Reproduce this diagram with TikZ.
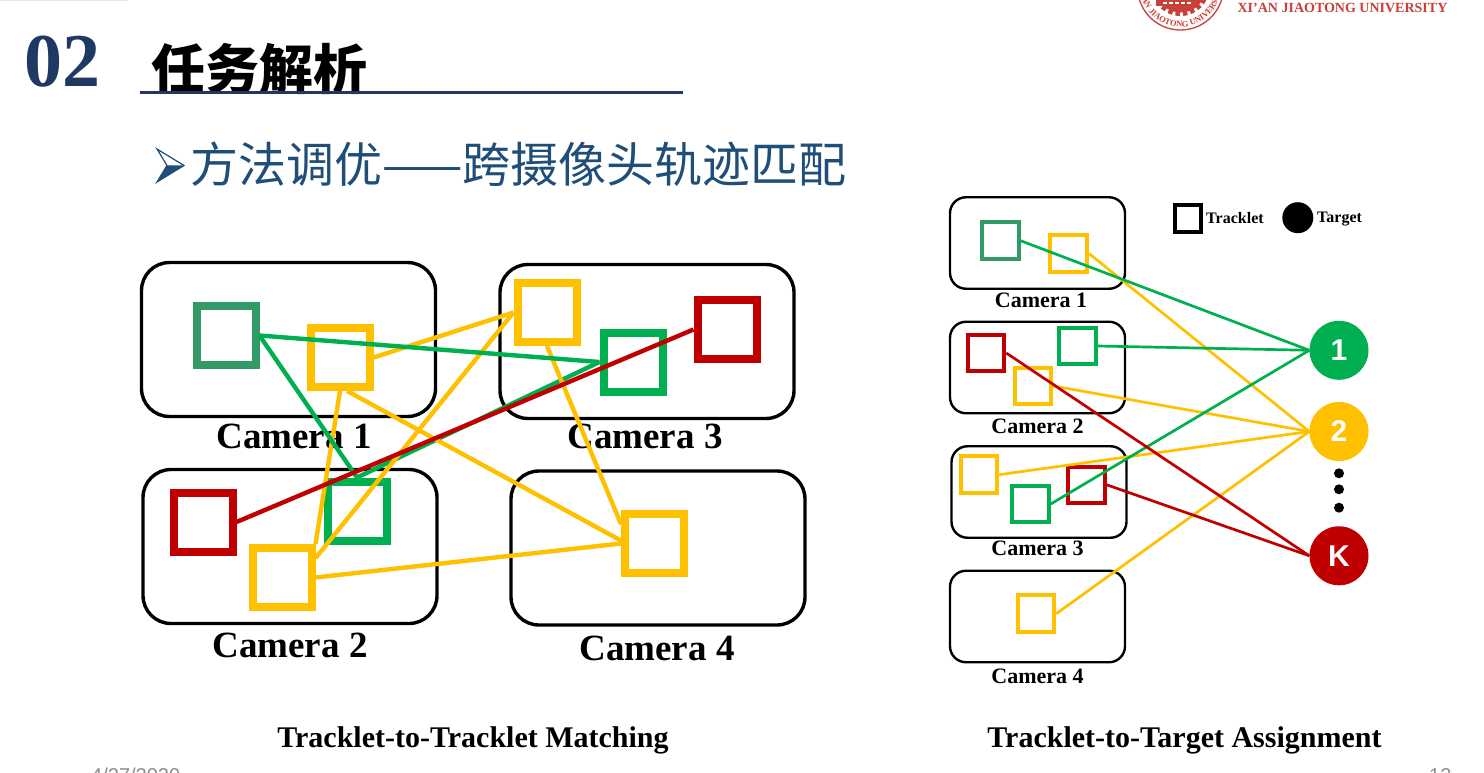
\documentclass[tikz,border=0pt]{standalone}
\usepackage{fontspec}
\usepackage{xcolor}
\usetikzlibrary{decorations.text}
\setmainfont{Liberation Serif}
\newfontfamily\cjkfont{Noto Sans CJK SC}
\newfontfamily\arialfont{Liberation Sans}
\definecolor{navy}{HTML}{1F3864}
\definecolor{subblue}{HTML}{1F4E79}
\definecolor{tgreen}{HTML}{00B050}
\definecolor{dgreen}{HTML}{339966}
\definecolor{tyellow}{HTML}{FFC000}
\definecolor{tred}{HTML}{C00000}
\definecolor{seal}{HTML}{C8403A}
\definecolor{muted}{HTML}{8C8C8C}
\tikzset{
  camL/.style={draw=black, line width=3.4pt, rounded corners=28pt, minimum width=294pt, minimum height=154pt},
  camR/.style={draw=black, line width=2.4pt, rounded corners=16pt, minimum width=175pt, minimum height=91.5pt},
  trkL/.style={draw=#1, line width=8pt, minimum size=59pt, inner sep=0pt},
  trkR/.style={draw=#1, line width=4pt, minimum size=36.5pt, inner sep=0pt},
  lineL/.style={draw=#1, line width=4.4pt},
  lineR/.style={draw=#1, line width=2.7pt},
  tgt/.style={circle, fill=#1, minimum size=59pt, inner sep=0pt, text=white, font=\arialfont\bfseries\fontsize{30}{30}\selectfont},
  blob/.style={circle, fill=black, minimum size=10pt, inner sep=0pt},
  camlblL/.style={font=\bfseries\fontsize{37}{37}\selectfont},
  camlblR/.style={font=\bfseries\fontsize{22}{22}\selectfont},
  caption/.style={font=\bfseries\fontsize{30}{30}\selectfont},
  keylbl/.style={font=\bfseries\fontsize{16}{16}\selectfont},
  footer/.style={text=muted, font=\arialfont\fontsize{20}{20}\selectfont}
}

\begin{document}
\begin{tikzpicture}[x=1pt,y=-1pt]
  \useasboundingbox (0,0) rectangle (1484,773);
  \clip (0,0) rectangle (1484,773);
  \fill[white] (0,0) rectangle (1484,773);
  \fill[navy!12] (0,0) rectangle (128,1);

  % header
  \node[text=navy, font=\bfseries\fontsize{76}{76}\selectfont] (secnum) at (62.5,62) {02};
  \node[font=\cjkfont\bfseries\fontsize{54}{54}\selectfont] (sectitle) at (259.5,69.5) {任务解析};
  \draw[navy, line width=3pt] (140,93) -- (683,93);
  \draw[subblue, line width=1.2pt, line join=miter] (157,149) -- (184,165.5) -- (157,182) -- (167,165.5) -- cycle;
  \fill[subblue] (157,182) -- (184,165.5) -- (167,165.5) -- cycle;
  \node[text=subblue, font=\cjkfont\fontsize{48}{48}\selectfont] (subtitle) at (518.5,164) {方法调优——跨摄像头轨迹匹配};

  % seal
  \begin{scope}[shift={(1180.5,-13)},y=1pt]
    \draw[seal, line width=1.3pt] (0,0) circle[radius=43];
    \foreach \a in {200,216,...,340}
      \draw[seal, line width=4.5pt] (\a:22) -- (\a:29);
    \draw[seal, line width=9pt] (0,0) circle[radius=21];
    \fill[seal] (-25,-19) rectangle (15,-13);
    \foreach \x in {-18,-12,-6,0,6}
      \fill[white] (\x,-17) rectangle ++(4,2);
    \path[decorate, decoration={text along path, text align=center,
      text={|\bfseries\fontsize{8.5}{9}\selectfont\color{seal}|XI'AN JIAOTONG UNIVERSITY}}]
      (172:40) arc[start angle=172, end angle=368, radius=40];
  \end{scope}
  \node[text=seal, font=\bfseries\fontsize{14}{14}\selectfont] (univ) at (1342.5,8) {XI'AN JIAOTONG UNIVERSITY};

  % left diagram
  \node[camL] (camA) at (288.5,339.5) {};
  \node[camL] (camC) at (647,341.5) {};
  \node[camL] (camB) at (290,546.5) {};
  \node[camL] (camD) at (658,548) {};
  \node[camlblL] (lblA) at (294,436) {Camera 1};
  \node[camlblL] (lblC) at (645,436) {Camera 3};
  \node[camlblL] (lblB) at (290,645.5) {Camera 2};
  \node[camlblL] (lblD) at (657,648.5) {Camera 4};

  \node[trkL=dgreen] (gA) at (226,335.5) {};
  \node[trkL=tyellow] (yA) at (340,357.5) {};
  \node[trkL=tyellow] (yC) at (547,312.5) {};
  \node[trkL=tgreen] (gC) at (633,362) {};
  \node[trkL=tred] (rC) at (727,329.5) {};
  \node[trkL=tred] (rB) at (203,522) {};
  \node[trkL=tgreen] (gB) at (357,511) {};
  \node[trkL=tyellow] (yB) at (282,577.5) {};
  \node[trkL=tyellow] (yD) at (654.5,543.5) {};

  \draw[lineL=tgreen] (gC.west) -- (gB.north);
  \draw[lineL=tyellow] (yA.east) -- (yC.west);
  \draw[lineL=tyellow] (yA.south) -- (yB.north east);
  \draw[lineL=tyellow] (yA.-78) -- (yD.175);
  \draw[lineL=tyellow] (yC.west) -- (yB.30);
  \draw[lineL=tyellow] (yC.south) -- (yD.150);
  \draw[lineL=tyellow] (yB.east) -- (yD.west);
  \draw[lineL=tgreen] (gA.east) -- (gC.west);
  \draw[lineL=tgreen] (gA.east) -- (gB.north);
  \draw[lineL=tred] (rB.east) -- (rC.west);

  % right diagram
  \node[camR] (boxA) at (1037.5,243) {};
  \node[camR] (boxB) at (1037.5,367.5) {};
  \node[camR] (boxC) at (1039,492) {};
  \node[camR] (boxD) at (1037.5,616.5) {};
  \node[camlblR] (nameA) at (1041,300.5) {Camera 1};
  \node[camlblR] (nameB) at (1037.5,426.5) {Camera 2};
  \node[camlblR] (nameC) at (1037.5,548.5) {Camera 3};
  \node[camlblR] (nameD) at (1037.5,676.5) {Camera 4};

  \node[trkR=dgreen] (sgA) at (1000.3,240.7) {};
  \node[trkR=tyellow] (syA) at (1068.7,253.5) {};
  \node[trkR=tred] (srB) at (986,353) {};
  \node[trkR=tgreen] (sgB) at (1077.7,346) {};
  \node[trkR=tyellow] (syB) at (1033,386) {};
  \node[trkR=tyellow] (syC) at (979,474.7) {};
  \node[trkR=tgreen] (sgC) at (1030.5,504) {};
  \node[trkR=tred] (srC) at (1086.5,484.8) {};
  \node[trkR=tyellow] (syD) at (1036,613.7) {};

  \node[tgt=tgreen] (tA) at (1339,350.3) {1};
  \node[tgt=tyellow] (tB) at (1339,431.5) {2};
  \node[tgt=tred] (tK) at (1339,555.8) {K};
  \node[blob] (dotA) at (1339,473.3) {};
  \node[blob] (dotB) at (1339,489.3) {};
  \node[blob] (dotC) at (1339,507.7) {};

  \draw[lineR=tyellow] (syA.east) -- (tB.west);
  \draw[lineR=tyellow] (syB.east) -- (tB.west);
  \draw[lineR=tyellow] (syC.east) -- (tB.west);
  \draw[lineR=tyellow] (syD.east) -- (tB.west);
  \draw[lineR=tgreen] (sgA.east) -- (tA.west);
  \draw[lineR=tgreen] (sgB.east) -- (tA.west);
  \draw[lineR=tgreen] (sgC.east) -- (tA.west);
  \draw[lineR=tred] (srB.east) -- (tK.west);
  \draw[lineR=tred] (srC.east) -- (tK.west);

  % legend
  \node[draw=black, line width=4pt, minimum size=26.5pt, inner sep=0pt] (keysq) at (1188,218.3) {};
  \node[keylbl, anchor=west, inner sep=0pt] (keytrk) at (1206,218) {Tracklet};
  \node[circle, fill=black, minimum size=31pt, inner sep=0pt] (keydot) at (1297.8,217.7) {};
  \node[keylbl, anchor=west, inner sep=0pt] (keytgt) at (1317,219) {Target};

  % captions and footer
  \node[caption] (capL) at (473,740.5) {Tracklet-to-Tracklet Matching};
  \node[caption] (capR) at (1184.5,740.5) {Tracklet-to-Target Assignment};
  \node[footer, anchor=west, inner sep=0pt] (date) at (91,775.5) {4/27/2020};
  \node[footer, anchor=west, inner sep=0pt] (page) at (1429,775.5) {12};
\end{tikzpicture}
\end{document}
